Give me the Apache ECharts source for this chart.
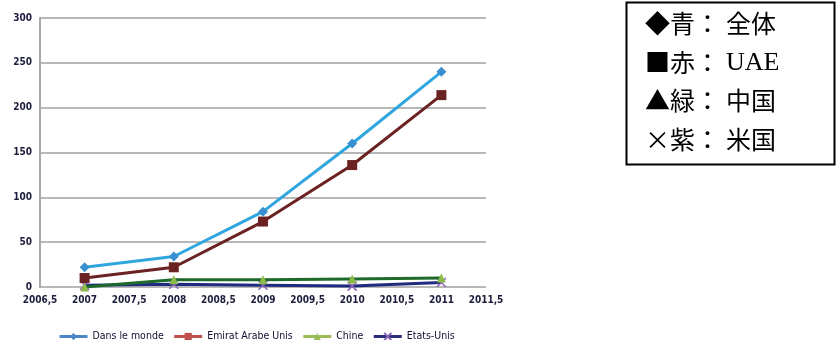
<!DOCTYPE html>
<html><head><meta charset="utf-8">
<script src="https://cdn.jsdelivr.net/npm/echarts@6/dist/echarts.min.js"></script>
<style>html,body{margin:0;padding:0;background:#fff}#c{width:840px;height:340px}</style>
</head><body><div id="c"></div>
<script>
const years = [2007, 2008, 2009, 2010, 2011];
const monde = [22, 34, 84, 160, 240];
const uae = [10, 22, 73, 136, 214];
const chine = [0, 8, 8, 9, 10];
const usa = [2, 3, 2, 1, 5];
const seriesNames = ['Dans le monde', 'Emirat Arabe Unis', 'Chine', 'Etats-Unis'];
const notePrefix = ['◆青', '■赤', '▲緑', '×紫'];
const noteLabels = ['全体', 'UAE', '中国', '米国'];

const pair = arr => years.map((y, i) => [y, arr[i]]);
const font = '"DejaVu Sans Condensed", "Liberation Sans", sans-serif';
const cjk = '"Noto Sans CJK JP", sans-serif';
const serif = '"Liberation Serif", serif';
const chart = echarts.init(document.getElementById('c'));
const lineCols = ['#2fa6dd', '#6b2222', '#1d6a2a', '#202a80'];
const markCols = ['#3a8fd0', '#6b2222', '#8dbb4a', '#8a63b5'];
const legCols = ['#4a86c8', '#c0504d', '#9bbb59', '#2c2c7c'];
const legMark = ['#4a86c8', '#c0504d', '#9bbb59', '#8a63b5'];
const symbols = ['diamond', 'rect', 'triangle', 'path://M0,0L10,10M10,0L0,10'];
const sizes = [10, 10, 9, 9];
const datas = [monde, uae, chine, usa];

chart.setOption({
  animation: false,
  grid: {left: 40, right: 354, top: 18, bottom: 53},
  xAxis: {
    type: 'value', min: 2006.5, max: 2011.5, interval: 0.5,
    axisLine: {show: false}, axisTick: {show: false}, splitLine: {show: false},
    axisLabel: {fontFamily: font, fontSize: 10, fontWeight: 'bold', color: '#1c1c3c', margin: 8,
      formatter: v => String(v).replace('.', ',')}
  },
  yAxis: {
    type: 'value', min: 0, max: 300, interval: 50,
    axisLine: {show: true, lineStyle: {color: '#a8a8a8', width: 2}},
    axisTick: {show: false},
    splitLine: {lineStyle: {color: '#a0a0a0', width: 1.5}},
    axisLabel: {fontFamily: font, fontSize: 10, fontWeight: 'bold', color: '#1c1c3c', margin: 8}
  },
  legend: {
    top: 326, left: 53, itemWidth: 28, itemHeight: 9, itemGap: 9,
    textStyle: {fontFamily: font, fontSize: 10.5, color: '#101030'},
    data: seriesNames.map((n, i) => ({name: n,
      itemStyle: {color: legMark[i], borderColor: legMark[i]}, lineStyle: {color: legCols[i], width: 3}}))
  },
  series: datas.map((d, i) => ({
    name: seriesNames[i], type: 'line', data: pair(d),
    symbol: symbols[i], symbolSize: sizes[i], showSymbol: true,
    lineStyle: {color: lineCols[i], width: 3},
    itemStyle: {color: markCols[i], borderColor: markCols[i], borderWidth: i === 3 ? 1.5 : 0},
    z: 10 - i
  })),
  graphic: [
    {type: 'rect', shape: {x: 626.5, y: 2.5, width: 208, height: 162},
     style: {fill: '#fff', stroke: '#000', lineWidth: 2}},
    ...notePrefix.map((t, i) => ({type: 'text', left: 645, top: 11 + i * 38.7,
      style: {text: '{a|' + t + '}{c|：}{' + (i === 1 ? 'b' : 'a') + '|' + noteLabels[i] + '}',
        fill: '#000',
        rich: {a: {fontSize: 25, fontFamily: cjk, fill: '#000'},
               c: {fontSize: 25, fontFamily: cjk, fill: '#000', padding: [0, 6, 0, 0]},
               b: {fontSize: 26, fontFamily: serif, fill: '#000'}}}}))
  ]
});
</script></body></html>
